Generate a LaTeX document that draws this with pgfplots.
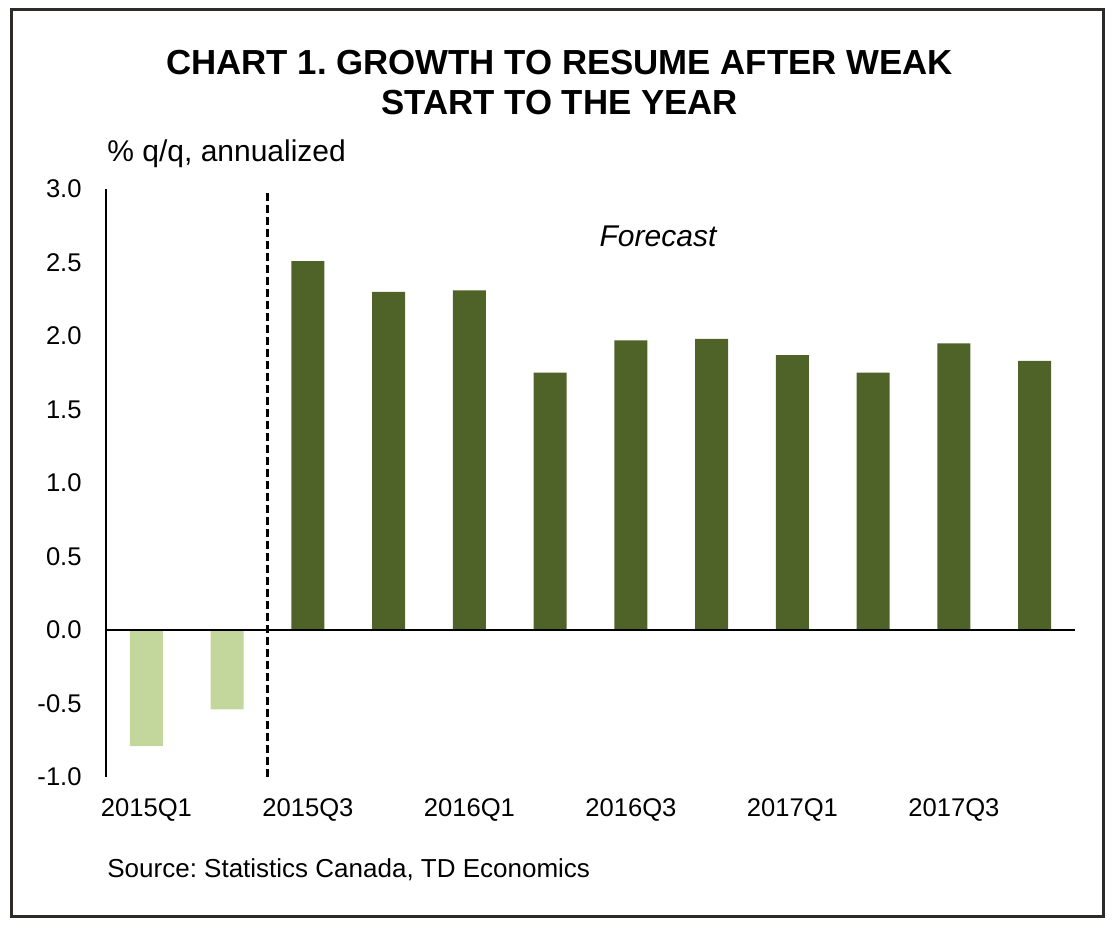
\documentclass[border=0pt]{standalone}
\usepackage{fontspec}
\setmainfont{Liberation Sans}
\usepackage{pgfplots}
\pgfplotsset{compat=1.18}
\frenchspacing

\definecolor{olivedark}{HTML}{4F6228}
\definecolor{olivelight}{HTML}{C3D69B}

\begin{document}
\begin{tikzpicture}
% page size and outer frame
\path (-53pt,-76pt) rectangle (507pt,388.5pt);
\draw[line width=1.5pt, black!90!olive] (-47pt,-70pt) rectangle (498.5pt,383.5pt);

\begin{axis}[
    at={(0,0)}, anchor=south west,
    scale only axis,
    width=484.5pt, height=294pt,
    xmin=-0.5, xmax=11.5,
    ymin=-1, ymax=3,
    axis line style={draw=none},
    major tick length=0pt,
    xtick={0,2,4,6,8,10},
    xticklabels={2015Q1,2015Q3,2016Q1,2016Q3,2017Q1,2017Q3},
    ytick={-1,-0.5,0,0.5,1,1.5,2,2.5,3},
    xtick pos=bottom, ytick pos=left,
    /pgf/number format/assume math mode=true,
    /pgf/number format/fixed,
    /pgf/number format/fixed zerofill,
    /pgf/number format/precision=1,
    every tick label/.append style={font=\fontsize{12.8}{15}\selectfont, inner sep=0pt},
    xticklabel style={anchor=north, yshift=-10.5pt},
    yticklabel style={anchor=east, xshift=-12pt},
    clip=false,
]
% actual (light) and forecast (dark) quarters
\addplot[ybar, bar shift=0pt, bar width=16.5pt, fill=olivelight, draw=none]
    coordinates {(0,-0.79) (1,-0.54)};
\addplot[ybar, bar shift=0pt, bar width=16.5pt, fill=olivedark, draw=none]
    coordinates {(2,2.51) (3,2.30) (4,2.31) (5,1.75) (6,1.97)
                 (7,1.98) (8,1.87) (9,1.75) (10,1.95) (11,1.83)};

% axis lines
\draw[line width=1.4pt] (axis cs:-0.5,-1) -- (axis cs:-0.5,3);
\draw[line width=1.4pt] (axis cs:-0.5,0) -- (axis cs:11.5,0);
% forecast divider
\draw[line width=1.4pt, dash pattern=on 4pt off 2pt] (axis cs:1.5,-1) -- (axis cs:1.5,3);
\end{axis}

\node[anchor=base, font=\bfseries\fontsize{17.4}{20}\selectfont] at (226.75pt,351pt)
    {CHART 1. GROWTH TO RESUME AFTER WEAK};
\node[anchor=base, font=\bfseries\fontsize{17.4}{20}\selectfont] at (226.75pt,331pt)
    {START TO THE YEAR};
\node[anchor=base west, inner sep=0pt, font=\fontsize{15}{18}\selectfont] at (0.5pt,307.5pt)
    {\% q/q, annualized};
\node[anchor=base, inner sep=0pt, font=\itshape\fontsize{15}{18}\selectfont] at (276pt,265pt)
    {Forecast};
\node[anchor=base west, inner sep=0pt, font=\fontsize{13}{16}\selectfont] at (0.5pt,-50.5pt)
    {Source: Statistics Canada, TD Economics};
\end{tikzpicture}
\end{document}
